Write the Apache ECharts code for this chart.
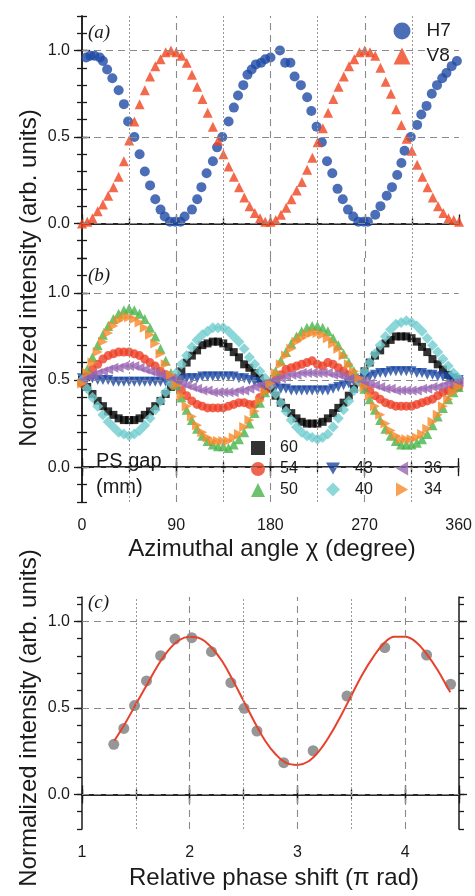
<!DOCTYPE html>
<html><head><meta charset="utf-8">
<script src="https://cdn.jsdelivr.net/npm/echarts@6/dist/echarts.min.js"></script>
<style>html,body{margin:0;padding:0;background:#fff}#c{width:475px;height:896px}</style>
</head><body><div id="c"></div>
<script>
// ---------- DATA ----------
// Panel (a)
const h7Angle = [4,8,12,17,20,24,29,35,40,44,50,55,60,65,70,75,79,84,89,94,98,105,110,114,119,125,129,134,140,145,149,154,158,162,166,171,175,180,189,194,199,203,209,215,219,224,229,234,239,244,249,254,259,264,269,273,280,285,291,296,301,305,308,314,320,324,329,334,339,344,348,353,358];
const h7Value = [0.96,0.97,0.97,0.96,0.94,0.89,0.84,0.77,0.69,0.59,0.50,0.40,0.30,0.22,0.14,0.08,0.04,0.01,0.01,0.01,0.04,0.08,0.14,0.21,0.29,0.36,0.44,0.50,0.59,0.67,0.74,0.80,0.86,0.89,0.92,0.93,0.95,0.96,1.00,0.93,0.93,0.85,0.80,0.73,0.65,0.56,0.47,0.36,0.29,0.20,0.14,0.08,0.04,0.01,0.01,0.01,0.05,0.10,0.16,0.21,0.28,0.35,0.42,0.50,0.57,0.63,0.68,0.75,0.80,0.84,0.87,0.91,0.94];
const angles = [0,5,10,15,20,25,30,35,40,45,50,55,60,65,70,75,80,85,90,95,100,105,110,115,120,125,130,135,140,145,150,155,160,165,170,175,180,185,190,195,200,205,210,215,220,225,230,235,240,245,250,255,260,265,270,275,280,285,290,295,300,305,310,315,320,325,330,335,340,345,350,355,360];
const v8Value = [0.00,0.01,0.03,0.07,0.11,0.16,0.21,0.27,0.36,0.48,0.59,0.69,0.77,0.85,0.91,0.95,0.99,1.00,0.99,0.97,0.93,0.86,0.79,0.72,0.64,0.56,0.48,0.40,0.33,0.27,0.21,0.15,0.10,0.06,0.03,0.01,0.01,0.02,0.05,0.09,0.14,0.19,0.24,0.31,0.38,0.47,0.55,0.64,0.72,0.79,0.85,0.91,0.95,0.99,1.00,0.99,0.97,0.90,0.82,0.75,0.66,0.57,0.49,0.42,0.34,0.27,0.21,0.15,0.10,0.06,0.03,0.02,0.01];
// Panel (b) — PS gap series (mm)
const gap60 = [0.50,0.46,0.42,0.38,0.35,0.32,0.30,0.28,0.27,0.27,0.27,0.28,0.30,0.32,0.35,0.38,0.42,0.46,0.51,0.55,0.60,0.64,0.67,0.70,0.71,0.72,0.72,0.71,0.69,0.66,0.63,0.59,0.57,0.54,0.51,0.48,0.45,0.41,0.37,0.34,0.31,0.28,0.26,0.25,0.25,0.25,0.26,0.28,0.31,0.34,0.37,0.41,0.45,0.49,0.55,0.60,0.64,0.67,0.71,0.73,0.75,0.75,0.75,0.74,0.72,0.69,0.66,0.62,0.59,0.56,0.53,0.51,0.50];
const gap54 = [0.48,0.52,0.56,0.59,0.62,0.64,0.65,0.66,0.66,0.66,0.65,0.64,0.62,0.60,0.58,0.55,0.53,0.51,0.48,0.44,0.41,0.38,0.36,0.35,0.34,0.34,0.34,0.34,0.35,0.36,0.37,0.37,0.36,0.36,0.40,0.44,0.47,0.50,0.53,0.56,0.57,0.58,0.59,0.60,0.61,0.59,0.58,0.60,0.59,0.57,0.55,0.53,0.51,0.49,0.47,0.44,0.41,0.39,0.37,0.36,0.35,0.35,0.35,0.35,0.36,0.37,0.38,0.39,0.41,0.43,0.44,0.45,0.46];
const gap50 = [0.50,0.56,0.63,0.70,0.76,0.81,0.85,0.88,0.90,0.91,0.90,0.88,0.85,0.80,0.75,0.68,0.61,0.54,0.47,0.40,0.33,0.27,0.22,0.18,0.15,0.13,0.12,0.12,0.11,0.13,0.16,0.20,0.25,0.31,0.37,0.43,0.49,0.55,0.61,0.66,0.71,0.75,0.78,0.80,0.81,0.81,0.80,0.78,0.74,0.70,0.65,0.60,0.55,0.50,0.45,0.39,0.33,0.27,0.22,0.18,0.15,0.13,0.13,0.13,0.14,0.16,0.19,0.24,0.29,0.34,0.39,0.43,0.46];
const gap43 = [0.51,0.51,0.51,0.50,0.50,0.50,0.49,0.49,0.49,0.49,0.49,0.49,0.49,0.49,0.49,0.49,0.49,0.49,0.50,0.50,0.51,0.51,0.51,0.52,0.52,0.52,0.52,0.52,0.52,0.52,0.51,0.51,0.50,0.49,0.48,0.47,0.47,0.46,0.45,0.45,0.44,0.44,0.44,0.44,0.44,0.44,0.44,0.44,0.45,0.46,0.47,0.48,0.49,0.50,0.51,0.52,0.53,0.54,0.54,0.55,0.55,0.55,0.55,0.55,0.54,0.54,0.53,0.53,0.52,0.52,0.51,0.51,0.50];
const gap40 = [0.50,0.45,0.40,0.35,0.30,0.26,0.23,0.20,0.19,0.18,0.19,0.21,0.24,0.28,0.33,0.38,0.43,0.48,0.54,0.59,0.64,0.69,0.73,0.76,0.78,0.80,0.80,0.80,0.78,0.75,0.72,0.68,0.63,0.59,0.55,0.51,0.47,0.42,0.37,0.32,0.27,0.23,0.20,0.18,0.17,0.16,0.17,0.19,0.23,0.28,0.33,0.38,0.44,0.49,0.55,0.60,0.65,0.70,0.75,0.79,0.82,0.83,0.84,0.83,0.81,0.78,0.74,0.70,0.66,0.62,0.58,0.54,0.51];
const gap36 = [0.50,0.52,0.53,0.54,0.55,0.56,0.57,0.57,0.58,0.58,0.58,0.57,0.56,0.55,0.54,0.53,0.52,0.51,0.50,0.48,0.47,0.46,0.45,0.44,0.44,0.43,0.43,0.43,0.43,0.43,0.44,0.44,0.45,0.46,0.47,0.48,0.49,0.50,0.51,0.52,0.53,0.53,0.54,0.54,0.54,0.54,0.54,0.54,0.53,0.53,0.52,0.51,0.51,0.50,0.49,0.48,0.47,0.46,0.45,0.45,0.44,0.44,0.44,0.44,0.44,0.45,0.45,0.46,0.46,0.47,0.48,0.48,0.49];
const gap34 = [0.48,0.54,0.60,0.66,0.72,0.77,0.81,0.84,0.86,0.86,0.85,0.83,0.80,0.76,0.71,0.65,0.59,0.53,0.47,0.41,0.35,0.29,0.24,0.20,0.17,0.15,0.15,0.15,0.15,0.17,0.19,0.23,0.27,0.32,0.38,0.43,0.48,0.54,0.59,0.64,0.68,0.72,0.74,0.76,0.77,0.77,0.76,0.74,0.71,0.68,0.64,0.59,0.55,0.51,0.46,0.41,0.35,0.30,0.25,0.21,0.18,0.16,0.16,0.16,0.17,0.19,0.22,0.26,0.30,0.35,0.39,0.43,0.46];
// Panel (c)
const phaseShift = [1.295,1.388,1.488,1.599,1.730,1.863,2.019,2.202,2.382,2.506,2.624,2.873,3.146,3.460,3.811,4.199,4.422];
const phaseIntensity = [0.289,0.381,0.513,0.655,0.801,0.897,0.905,0.824,0.645,0.497,0.366,0.183,0.252,0.568,0.848,0.805,0.636];
const fitShift = [1.3,1.4,1.5,1.6,1.7,1.8,1.9,2.0,2.1,2.2,2.3,2.4,2.5,2.6,2.7,2.8,2.9,3.0,3.1,3.2,3.3,3.4,3.5,3.6,3.7,3.8,3.9,4.0,4.1,4.2,4.3,4.4,4.42];
const fitIntensity = [0.31,0.41,0.52,0.63,0.74,0.83,0.89,0.91,0.90,0.85,0.77,0.66,0.54,0.42,0.31,0.23,0.18,0.17,0.19,0.25,0.34,0.45,0.57,0.69,0.79,0.87,0.91,0.91,0.88,0.81,0.72,0.61,0.59];
// Tick labels
const yMajorTicks = [0, 0.5, 1.0];
const angleTickLabels = [0, 90, 180, 270, 360];
const phaseTickLabels = [1, 2, 3, 4];

// ---------- CHART ----------
const FONT = 'Liberation Sans, Arial, sans-serif';
const INK = '#1a1a1a';
const pairs = (xs, ys) => xs.map((x, i) => [x, ys[i]]);

const grids = [
  {left: 82, top: 16, width: 377, height: 242},
  {left: 82, top: 258, width: 377, height: 244},
  {left: 82, top: 597, width: 377, height: 232}
];
const xRanges = [[0,360,90,45],[0,360,90,45],[1,4.5,1,0.5]];
const yRanges = [[-0.2,1.2],[-0.2,1.2],[-0.2,1.14]];

const xAxis = [], yAxis = [];
const axLine = {show: true, lineStyle: {color: INK, width: 1.5}};
grids.forEach((g, gi) => {
  const [mn, mx, maj, mnr] = xRanges[gi];
  const lblVals = gi === 2 ? phaseTickLabels : angleTickLabels;
  const showBottomLabels = gi !== 0;
  xAxis.push({gridIndex: gi, type: 'value', position: 'bottom', min: mn, max: mx, interval: maj,
    axisLine: axLine, splitLine: {show: false},
    axisTick: {show: gi !== 0, length: 9, lineStyle: {color: INK, width: 1.3}},
    axisLabel: {show: showBottomLabels, margin: 16, fontSize: 16, color: INK, fontFamily: FONT,
      formatter: v => lblVals.some(t => Math.abs(t - v) < 1e-6) ? String(Math.round(v)) : ''}});
  xAxis.push({gridIndex: gi, type: 'value', position: 'bottom', min: mn, max: mx, interval: mnr,
    axisLine: {show: false}, splitLine: {show: false}, axisLabel: {show: false},
    axisTick: {show: gi !== 0, length: 5, lineStyle: {color: INK, width: 1.3}}});
  xAxis.push({gridIndex: gi, type: 'value', position: 'top', min: mn, max: mx, interval: maj,
    axisLine: axLine, splitLine: {show: false}, axisLabel: {show: false},
    axisTick: {show: true, length: 9, lineStyle: {color: INK, width: 1.3}}});
  xAxis.push({gridIndex: gi, type: 'value', position: 'top', min: mn, max: mx, interval: mnr,
    axisLine: {show: false}, splitLine: {show: false}, axisLabel: {show: false},
    axisTick: {show: true, length: 5, lineStyle: {color: INK, width: 1.3}}});

  const [ymn, ymx] = yRanges[gi];
  ['left', 'right'].forEach(pos => {
    yAxis.push({gridIndex: gi, type: 'value', position: pos, min: ymn, max: ymx,
      axisLine: axLine, splitLine: {show: false},
      axisTick: {show: true, length: 8, customValues: yMajorTicks, lineStyle: {color: INK, width: 1.3}},
      axisLabel: {show: pos === 'left', customValues: yMajorTicks, margin: 12, fontSize: 16, color: INK, fontFamily: FONT,
        formatter: v => v.toFixed(1)}});
    yAxis.push({gridIndex: gi, type: 'value', position: pos, min: ymn, max: ymx, interval: 0.1,
      axisLine: {show: false}, splitLine: {show: false}, axisLabel: {show: false},
      axisTick: {show: true, length: 5, lineStyle: {color: INK, width: 1.3}}});
  });
});

const dashMajor = {color: '#8a8a8a', width: 1.1, type: [7, 5]};
const dotMinor = {color: '#9a9a9a', width: 1, type: [2, 2]};
function gridLines(gi) {
  const d = yMajorTicks.map(v => ({yAxis: v, lineStyle: dashMajor}));
  const xs = gi === 2 ? [[2,3,4],[1.5,2.5,3.5]] : [[90,180,270],[45,135,225,315]];
  xs[0].forEach(v => d.push({xAxis: v, lineStyle: dashMajor}));
  xs[1].forEach(v => d.push({xAxis: v, lineStyle: dotMinor}));
  return {type: 'line', xAxisIndex: gi*4, yAxisIndex: gi*4, data: [], z: 1, silent: true,
    markLine: {silent: true, symbol: 'none', label: {show: false}, animation: false, data: d}};
}

const TRI_DOWN = 'path://M0,0 L10,0 L5,8.66 Z';
const TRI_LEFT = 'path://M8.66,0 L8.66,10 L0,5 Z';
const TRI_RIGHT = 'path://M0,0 L0,10 L8.66,5 Z';
const bSeries = [
  {name: '60', data: gap60, symbol: 'rect', icon: 'rect', size: 8, rot: 0, color: '#000000'},
  {name: '54', data: gap54, symbol: 'circle', icon: 'circle', size: 9, rot: 0, color: '#ee3d24'},
  {name: '50', data: gap50, symbol: 'triangle', icon: 'triangle', size: 10, rot: 0, color: '#46b549'},
  {name: '43', data: gap43, symbol: 'triangle', icon: TRI_DOWN, size: 10, rot: 180, color: '#1b47a1'},
  {name: '40', data: gap40, symbol: 'diamond', icon: 'diamond', size: 11, rot: 0, color: '#70cdcf'},
  {name: '36', data: gap36, symbol: 'triangle', icon: TRI_LEFT, size: 10, rot: 90, color: '#9a67b4'},
  {name: '34', data: gap34, symbol: 'triangle', icon: TRI_RIGHT, size: 10, rot: -90, color: '#f6892a'}
];

const series = [
  gridLines(0), gridLines(1), gridLines(2),
  {name: 'H7', type: 'scatter', xAxisIndex: 0, yAxisIndex: 0, z: 3, symbol: 'circle', symbolSize: 10,
    itemStyle: {color: '#1f4aa5'}, data: pairs(h7Angle, h7Value)},
  {name: 'V8', type: 'scatter', xAxisIndex: 0, yAxisIndex: 0, z: 3, symbol: 'triangle', symbolSize: 10,
    itemStyle: {color: '#f0441f'}, data: pairs(angles, v8Value)},
  ...bSeries.map(s => ({name: s.name, type: 'scatter', xAxisIndex: 4, yAxisIndex: 4, z: 3,
    symbol: s.symbol, symbolSize: s.size, symbolRotate: s.rot, itemStyle: {color: s.color},
    data: pairs(angles, s.data)})),
  {name: 'meas', type: 'scatter', xAxisIndex: 8, yAxisIndex: 8, z: 3, symbol: 'circle', symbolSize: 11,
    itemStyle: {color: '#7c7c7c'}, data: pairs(phaseShift, phaseIntensity)},
  {name: 'fit', type: 'line', xAxisIndex: 8, yAxisIndex: 8, z: 4, smooth: 0.4, showSymbol: false, symbol: 'none',
    lineStyle: {color: '#e8412b', width: 2}, data: pairs(fitShift, fitIntensity)}
];

const iconOf = {};
bSeries.forEach(s => { iconOf[s.name] = s.icon; });
const legItem = n => ({name: n, icon: iconOf[n]});
const mkRich = (size, pad) => ({
  formatter: n => '{p|' + n + '}',
  textStyle: {rich: {p: {fontSize: size, color: INK, fontFamily: FONT, lineHeight: size, padding: [0, 0, 0, pad]}}}
});
const legend = [
  Object.assign({data: [{name: 'H7', icon: 'circle'}, {name: 'V8', icon: 'triangle'}], orient: 'vertical', left: 393.5, top: 21.5,
    padding: 0, itemWidth: 17, itemHeight: 17, itemGap: 6, selectedMode: false}, mkRich(19, 11)),
  Object.assign({data: ['60', '54', '50'].map(legItem), orient: 'vertical', left: 251, top: 440, padding: 0,
    itemWidth: 14, itemHeight: 14, itemGap: 5, selectedMode: false}, mkRich(16, 10)),
  Object.assign({data: ['43', '40'].map(legItem), orient: 'vertical', left: 326, top: 460.5, padding: 0,
    itemWidth: 14, itemHeight: 14, itemGap: 5, selectedMode: false}, mkRich(16, 10)),
  Object.assign({data: ['36', '34'].map(legItem), orient: 'vertical', left: 396, top: 460.5, padding: 0,
    itemWidth: 14, itemHeight: 14, itemGap: 5, selectedMode: false}, mkRich(16, 10))
];

const panelFont = 'italic 19px "Liberation Serif", "DejaVu Serif", serif';
const titleFont = '24px ' + FONT;
const graphic = [
  {type: 'text', left: 88, top: 23, style: {text: '(a)', font: panelFont, fill: INK}},
  {type: 'text', left: 88, top: 266, style: {text: '(b)', font: panelFont, fill: INK}},
  {type: 'text', left: 88, top: 593, style: {text: '(c)', font: panelFont, fill: INK}},
  {type: 'text', left: 96, top: 448, style: {text: 'PS gap\n(mm)', font: '20px ' + FONT, fill: INK, lineHeight: 26}},
  {type: 'text', x: 272, y: 549, style: {text: 'Azimuthal angle \u03c7 (degree)', font: titleFont, fill: INK, align: 'center', verticalAlign: 'middle'}},
  {type: 'text', x: 274, y: 878, style: {text: 'Relative phase shift (\u03c0 rad)', font: titleFont, fill: INK, align: 'center', verticalAlign: 'middle'}},
  {type: 'text', x: 29, y: 278, rotation: Math.PI/2, style: {text: 'Normalized intensity (arb. units)', font: titleFont, fill: INK, align: 'center', verticalAlign: 'middle'}},
  {type: 'text', x: 29, y: 718, rotation: Math.PI/2, style: {text: 'Normalized intensity (arb. units)', font: titleFont, fill: INK, align: 'center', verticalAlign: 'middle'}}
];

const chart = echarts.init(document.getElementById('c'), null, {renderer: 'canvas'});
chart.setOption({animation: false, backgroundColor: '#fff', grid: grids, xAxis, yAxis, series, legend, graphic});
</script></body></html>
